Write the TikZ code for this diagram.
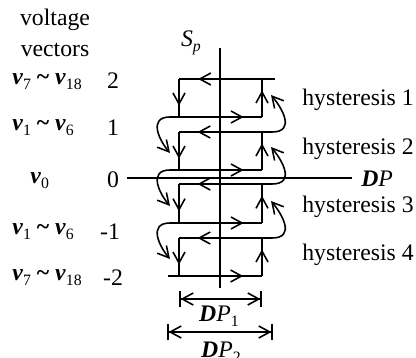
\documentclass[tikz,border=0pt]{standalone}
\usepackage{fontspec}
\setmainfont{Liberation Serif}
\usetikzlibrary{arrows.meta,decorations.markings}

\newcommand{\vsub}[1]{\textbf{\textit{v}}\raisebox{-0.45ex}{\fontsize{9}{9}\selectfont #1}}
\newcommand{\dP}{\textbf{\textit{D}}\textit{P}}

\begin{document}
\begin{tikzpicture}[x=0.02cm,y=-0.02cm,
  txt/.style={font=\fontsize{13.5}{16}\selectfont,inner sep=0pt},
  branch/.style={line width=0.9pt},
  flow/.style={postaction={decorate},decoration={markings,
      mark=at position #1 with {\arrow{Straight Barb[length=2.2mm,width=2.4mm,line width=0.9pt]}}}},
  jump/.style={line width=0.9pt,-{Straight Barb[length=2.2mm,width=2.4mm,line width=0.9pt]}},
  width/.style={line width=0.9pt,
      {Bar[width=3.4mm]Straight Barb[length=2.2mm,width=2.4mm]}-{Straight Barb[length=2.2mm,width=2.4mm]Bar[width=3.4mm]}}]
\useasboundingbox (0,0) rectangle (416,358);

%% ---------- axes ----------
\coordinate (X0) at (127,178);
\coordinate (X1) at (352,178);
\coordinate (Y0) at (220,288);
\coordinate (Y1) at (220,48);
\draw[branch] (X0) -- (X1);
\draw[branch] (Y0) -- (Y1);
\node[txt,anchor=west] (dPaxis) at (361,179) {\dP};
\node[txt] (Sp) at (191,43) {\textit{S}\raisebox{-0.5ex}{\fontsize{9}{9}\selectfont\textit{p}}};

%% ---------- four hysteresis loops ----------
\foreach \k/\t/\b in {1/79/117,2/132/170,3/184/223,4/238/276}{
  \coordinate (TL\k) at (179,\t);
  \coordinate (TR\k) at (262,\t);
  \coordinate (BL\k) at (179,\b);
  \coordinate (BR\k) at (262,\b);
  \coordinate (TE\k) at (272,\t);  % right end of upper branch
  \coordinate (BE\k) at (170,\b);  % left end of lower branch
}
\coordinate (TE1) at (275,79);
\coordinate (BE4) at (168,276);

\foreach \k in {1,2,3,4}{
  \draw[branch,flow=0.8] (TE\k) -- (TL\k);
  \draw[branch,flow=0.7] (TL\k) -- (BL\k);
  \draw[branch,flow=0.8] (BE\k) -- (BR\k);
  \draw[branch,flow=0.7] (BR\k) -- (TR\k);
}

% jumps between neighbouring loops
\foreach \k/\t in {2/132,3/184,4/238}
  \draw[jump] (TE\k) .. controls +(24,0) and +(11,13) .. (271,\t-37);
\foreach \k/\b in {1/117,2/170,3/223}
  \draw[jump] (BE\k) .. controls +(-22,0) and +(-11,-13) .. (170,\b+36);

\foreach \k/\yy in {1/100,2/149,3/207,4/255}
  \node[txt,anchor=west] (H\k) at (302,\yy) {hysteresis \k};

%% ---------- levels ----------
\node[txt] (head1) at (55,20) {voltage};
\node[txt] (head2) at (55,50) {vectors};
\node[txt,anchor=west] (V2) at (12,82) {\vsub{7} \textbf{\textasciitilde} \vsub{18}};
\node[txt,anchor=west] (V1) at (12,128) {\vsub{1} \textbf{\textasciitilde} \vsub{6}};
\node[txt,anchor=west] (V0) at (30,181) {\vsub{0}};
\node[txt,anchor=west] (Vm1) at (12,232) {\vsub{1} \textbf{\textasciitilde} \vsub{6}};
\node[txt,anchor=west] (Vm2) at (12,278) {\vsub{7} \textbf{\textasciitilde} \vsub{18}};
\foreach \n/\lab/\xx/\yy in {L2/2/113/81,L1/1/113/128,L0/0/113/180,Lm1/-1/110/232,Lm2/-2/113/278}
  \node[txt] (\n) at (\xx,\yy) {\lab};

%% ---------- band widths ----------
\coordinate (W1a) at (179,299);
\coordinate (W1b) at (262,299);
\coordinate (W2a) at (167,332);
\coordinate (W2b) at (273,332);
\draw[width] (W1a) -- (W1b);
\draw[width] (W2a) -- (W2b);
\node[txt] (dP1) at (219,316) {\dP\raisebox{-0.5ex}{\fontsize{9}{9}\selectfont 1}};
\node[txt] (dP2) at (221,352) {\dP\raisebox{-0.5ex}{\fontsize{9}{9}\selectfont 2}};

\end{tikzpicture}
\end{document}
